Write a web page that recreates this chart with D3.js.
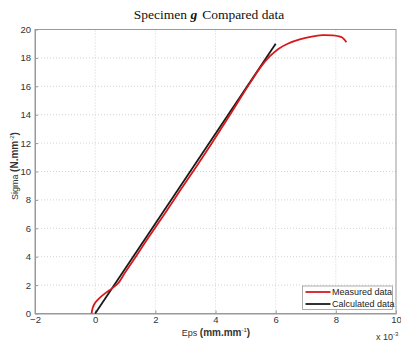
<!DOCTYPE html>
<html lang="en">
<head>
<meta charset="UTF-8">
<title>Specimen g Compared data</title>
<script src="https://d3js.org/d3.v7.min.js"></script>
<style>
    body { margin: 0; background: #fff; }
    svg { display: block; }
    .tick text { font-family: "Liberation Sans", Arial, sans-serif; font-size: 9.5px; fill: #333; }
</style>
</head>
<body>
<svg id="chart"></svg>
<script>
    const width = 401;
    const height = 342;

    // measured curve (eps x 1e-3, sigma)
    const measuredEps = [-0.12, -0.08, 0.0, 0.15, 0.35, 0.55, 0.75, 1.0, 1.35, 1.85, 2.35, 2.85, 3.35, 3.85, 4.35, 4.85, 5.2, 5.5, 5.8, 6.1, 6.4, 6.8, 7.2, 7.55, 7.9, 8.1, 8.2, 8.28, 8.35];
    const measuredSigma = [0.0, 0.4, 0.75, 1.1, 1.45, 1.75, 2.1, 2.9, 4.0, 5.6, 7.15, 8.75, 10.3, 11.9, 13.55, 15.25, 16.4, 17.35, 18.1, 18.65, 19.0, 19.3, 19.5, 19.6, 19.58, 19.52, 19.45, 19.3, 19.1];
    // calculated line
    const calcEps = [0.0, 6.0];
    const calcSigma = [0.0, 19.0];

    const xTicks = [-2, 0, 2, 4, 6, 8, 10];
    const yTicks = [0, 2, 4, 6, 8, 10, 12, 14, 16, 18, 20];
    const seriesNames = ["Measured data", "Calculated data"];
    const seriesColors = ["#d7191c", "#1a1a1a"];

    const margin = { top: 29.5, right: 5, bottom: 28.5, left: 35 };

    const svg = d3.select("#chart")
        .attr("width", width)
        .attr("height", height);

    const x = d3.scaleLinear().domain([-2, 10]).range([margin.left, width - margin.right]);
    const y = d3.scaleLinear().domain([0, 20]).range([height - margin.bottom, margin.top]);

    // grid
    svg.append("g").selectAll("line.gx")
        .data(xTicks.slice(1, -1))
        .enter().append("line")
        .attr("x1", d => x(d)).attr("x2", d => x(d))
        .attr("y1", y(0)).attr("y2", y(20))
        .style("stroke", "#c8c8c8").style("stroke-width", 0.8).style("stroke-dasharray", "1,2");
    svg.append("g").selectAll("line.gy")
        .data(yTicks.slice(1, -1))
        .enter().append("line")
        .attr("x1", x(-2)).attr("x2", x(10))
        .attr("y1", d => y(d)).attr("y2", d => y(d))
        .style("stroke", "#c8c8c8").style("stroke-width", 0.8).style("stroke-dasharray", "1,2");

    // axes
    const xAxis = svg.append("g")
        .attr("transform", `translate(0,${y(0)})`)
        .call(d3.axisBottom(x).tickValues(xTicks).tickSizeInner(-3).tickSizeOuter(0).tickPadding(3));
    const yAxis = svg.append("g")
        .attr("transform", `translate(${x(-2)},0)`)
        .call(d3.axisLeft(y).tickValues(yTicks).tickSizeInner(-3).tickSizeOuter(0).tickPadding(4));
    [xAxis, yAxis].forEach(a => {
        a.selectAll("path, line").style("stroke", "#999");
    });

    // box
    svg.append("rect")
        .attr("x", x(-2)).attr("y", y(20))
        .attr("width", x(10) - x(-2)).attr("height", y(0) - y(20))
        .style("fill", "none").style("stroke", "#999").style("stroke-width", 1);

    const line = d3.line().x(d => x(d[0])).y(d => y(d[1])).curve(d3.curveCatmullRom);

    svg.append("path")
        .datum(calcEps.map((e, i) => [e, calcSigma[i]]))
        .attr("d", line)
        .style("fill", "none").style("stroke", seriesColors[1]).style("stroke-width", 1.8);

    svg.append("path")
        .datum(measuredEps.map((e, i) => [e, measuredSigma[i]]))
        .attr("d", line)
        .style("fill", "none").style("stroke", seriesColors[0]).style("stroke-width", 1.8);

    // legend
    const lg = svg.append("g").attr("transform", "translate(302.5,286)");
    lg.append("rect").attr("width", 90).attr("height", 23.5)
        .style("fill", "#fff").style("stroke", "#999").style("stroke-width", 0.8);
    seriesNames.forEach((name, i) => {
        const yy = 6 + i * 12;
        lg.append("line").attr("x1", 3).attr("x2", 28).attr("y1", yy).attr("y2", yy)
            .style("stroke", seriesColors[i]).style("stroke-width", 1.8);
        lg.append("text").attr("x", 29.5).attr("y", yy + 3.3)
            .style("font-family", "Liberation Sans, Arial, sans-serif").style("font-size", "9px").style("fill", "#222")
            .text(name);
    });

    // title
    const title = svg.append("text")
        .attr("x", 209).attr("y", 19)
        .attr("text-anchor", "middle")
        .style("font-family", "Liberation Serif, Times New Roman, serif").style("font-size", "13.5px").style("fill", "#111");
    title.append("tspan").text("Specimen ");
    title.append("tspan").style("font-style", "italic").style("font-weight", "bold").text("g");
    title.append("tspan").attr("dx", 5).text("Compared data");

    // x label
    const xl = svg.append("text")
        .attr("x", 216).attr("y", 336)
        .attr("text-anchor", "middle")
        .style("font-family", "Liberation Sans, Arial, sans-serif").style("fill", "#333");
    xl.append("tspan").style("font-size", "9px").text("Eps ");
    xl.append("tspan").style("font-size", "10px").style("font-weight", "bold").text("(mm.mm");
    xl.append("tspan").style("font-size", "6px").attr("dy", -4).text("-1");
    xl.append("tspan").style("font-size", "10px").style("font-weight", "bold").attr("dy", 4).text(")");

    // exponent
    const ex = svg.append("text")
        .attr("x", 376).attr("y", 340)
        .style("font-family", "Liberation Sans, Arial, sans-serif").style("font-size", "9px").style("fill", "#333");
    ex.append("tspan").text("x 10");
    ex.append("tspan").style("font-size", "6px").attr("dy", -4).text("-3");

    // y label
    const yl = svg.append("text")
        .attr("transform", "translate(18,166) rotate(-90)")
        .attr("text-anchor", "middle")
        .style("font-family", "Liberation Sans, Arial, sans-serif").style("fill", "#333");
    yl.append("tspan").style("font-size", "9px").text("Sigma ");
    yl.append("tspan").style("font-size", "10px").style("font-weight", "bold").text("(N.mm");
    yl.append("tspan").style("font-size", "6px").attr("dy", -4).text("-2");
    yl.append("tspan").style("font-size", "10px").style("font-weight", "bold").attr("dy", 4).text(")");
</script>
</body>
</html>
